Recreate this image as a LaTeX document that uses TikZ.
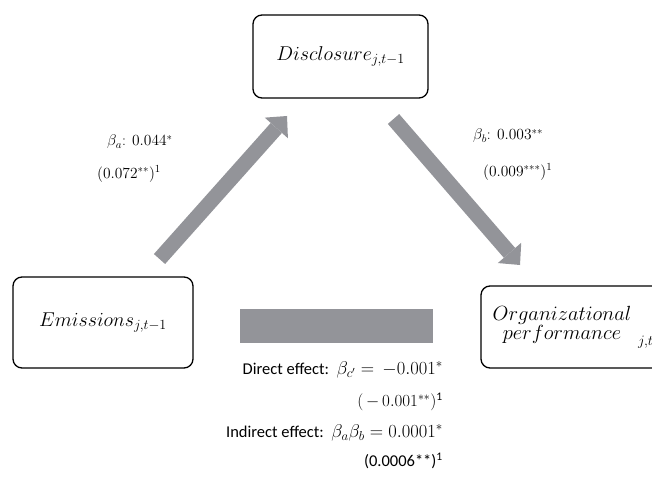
\RequirePackage{fix-cm}
\documentclass[tikz,border=0pt]{standalone}
\usepackage{fontspec}
\newfontfamily\calibri{Carlito}
\usetikzlibrary{arrows.meta}
\definecolor{arrowgray}{RGB}{147,148,153}
\newcommand{\calitxt}[1]{{\calibri\fontsize{16.5}{18}\selectfont #1}}
\begin{document}
\begin{tikzpicture}[x=1pt,y=-1pt,
  box/.style={draw, line width=1.3pt, rounded corners=9pt, inner sep=0pt},
  bigarrow/.style={draw=arrowgray, line width=15pt,
    -{Triangle[length=16pt,width=31pt,line width=0pt,fill=arrowgray]}},
  lbl/.style={font=\fontsize{15.5}{18}\selectfont, inner sep=0pt},
  biglbl/.style={font=\fontsize{18.5}{20}\selectfont, inner sep=0pt, anchor=east},
  boxtext/.style={font=\fontsize{20}{22}\selectfont, inner sep=0pt}]
\useasboundingbox (0,0) rectangle (652,486);
% boxes
\node[box, minimum width=175pt, minimum height=83pt] (disc) at (340.5,56.5) {};
\node[box, minimum width=180pt, minimum height=91pt] (emis) at (103,322.5) {};
\begin{scope}
\clip (0,0) rectangle (652,486);
\node[box, minimum width=184pt, minimum height=82pt] (org) at (573,327) {};
\end{scope}
\node[boxtext] (disct) at (disc.center) {$Disclosure_{j,t-1}$};
\node[boxtext] (emist) at (emis.center) {$Emissions_{j,t-1}$};
\node[boxtext, align=center, font=\fontsize{20.5}{18}\selectfont] (orgt) at (562,327)
  {$Organizational$\\$performance$\rlap{\hspace{17pt}\raisebox{-3pt}{$_{j,t}$}}};
% arrows
\coordinate (a1s) at (159.5,259);
\coordinate (a1e) at (287,116);
\coordinate (a2s) at (393.5,119);
\coordinate (a2e) at (520,265);
\draw[bigarrow] (a1s) -- (a1e);
\draw[bigarrow] (a2s) -- (a2e);
\node[fill=arrowgray, minimum width=193pt, minimum height=34pt, inner sep=0pt] (bar) at (336.5,326) {};
% labels
\node[lbl, anchor=west] (la1) at (107,142) {$\beta_a$: $0.044^{*}$};
\node[lbl, anchor=west] (la2) at (97,174) {$(0.072^{**})^{1}$};
\node[lbl, anchor=west] (lb1) at (473,136) {$\beta_b$: $0.003^{**}$};
\node[lbl, anchor=west] (lb2) at (483,172) {$(0.009^{***})^{1}$};
\node[biglbl] (dir) at (443,370) {\calitxt{Direct effect:} $\beta_{c'} =\, -0.001^{*}$};
\node[biglbl, font=\fontsize{17}{18}\selectfont] (dir2) at (443,402) {$(\,-\,0.001^{**})$\calitxt{\textsuperscript{1}}};
\node[biglbl] (ind) at (443,433) {\calitxt{Indirect effect:} $\beta_a\beta_b = 0.0001^{*}$};
\node[biglbl] (ind2) at (443,461) {\calitxt{(0.0006**)\textsuperscript{1}}};
\end{tikzpicture}
\end{document}
